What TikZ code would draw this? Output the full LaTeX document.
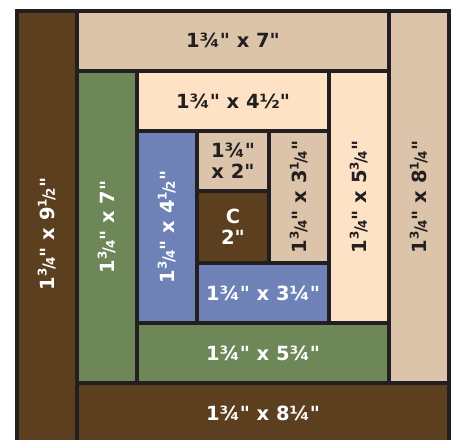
\documentclass[tikz,border=0pt]{standalone}
\usepackage{fontspec}
\setmainfont{DejaVu Sans}[Ligatures=TeXOff]
\definecolor{lc}{HTML}{231F20}
\definecolor{cbrown}{HTML}{5B3F1F}
\definecolor{ctan}{HTML}{DBC4A9}
\definecolor{cpeach}{HTML}{FDE2C5}
\definecolor{cgreen}{HTML}{6D8759}
\definecolor{cblue}{HTML}{6F82B7}
\newcommand\vfr[2]{\raisebox{0.42em}{\fontsize{12}{12}\selectfont #1}\kern-0.08em{\fontsize{16}{16}\selectfont /}\kern-0.08em{\fontsize{12}{12}\selectfont #2}}
\tikzset{
  blk/.style={draw=lc, line width=4pt, inner sep=0pt, outer sep=0pt},
  lab/.style={font=\bfseries\fontsize{19.5}{21}\selectfont, inner sep=0pt, align=center},
  dk/.style={lab, text=lc},
  wt/.style={lab, text=white},
}
\begin{document}
\begin{tikzpicture}[x=1pt,y=-1pt]
\useasboundingbox (0,0) rectangle (454,439);
\clip (0,0) rectangle (454,439);
\fill[white] (0,0) rectangle (454,439);
% blocks
\node[blk, fill=cbrown, minimum width=60pt, minimum height=432pt] (lb) at (47,227) {};
\node[blk, fill=ctan, minimum width=312pt, minimum height=60pt] (tt) at (233,41) {};
\node[blk, fill=ctan, minimum width=60pt, minimum height=372pt] (rt) at (419,197) {};
\node[blk, fill=cbrown, minimum width=372pt, minimum height=60pt] (bb) at (263,413) {};
\node[blk, fill=cgreen, minimum width=60pt, minimum height=312pt] (gl) at (107,227) {};
\node[blk, fill=cpeach, minimum width=192pt, minimum height=60pt] (pt) at (233,101) {};
\node[blk, fill=cpeach, minimum width=60pt, minimum height=252pt] (pr) at (359,197) {};
\node[blk, fill=cgreen, minimum width=252pt, minimum height=60pt] (gb) at (263,353) {};
\node[blk, fill=cblue, minimum width=60pt, minimum height=192pt] (bl) at (167,227) {};
\node[blk, fill=ctan, minimum width=72pt, minimum height=60pt] (ts) at (233,161) {};
\node[blk, fill=cbrown, minimum width=72pt, minimum height=72pt] (cc) at (233,227) {};
\node[blk, fill=ctan, minimum width=60pt, minimum height=132pt] (tv) at (299,197) {};
\node[blk, fill=cblue, minimum width=132pt, minimum height=60pt] (bh) at (263,293) {};
% labels
\node[wt, rotate=90] (lbl) at (47,234) {1\vfr34" x 9\vfr12"};
\node[dk] (ttl) at (233,40) {1¾" x 7"};
\node[dk, rotate=90] (rtl) at (419,197) {1\vfr34" x 8\vfr14"};
\node[wt] (bbl) at (263,413) {1¾" x 8¼"};
\node[wt, rotate=90] (gll) at (107,227) {1\vfr34" x 7"};
\node[dk] (ptl) at (233,101) {1¾" x 4½"};
\node[dk, rotate=90] (prl) at (359,197) {1\vfr34" x 5\vfr34"};
\node[wt] (gbl) at (263,353) {1¾" x 5¾"};
\node[wt, rotate=90] (bll) at (167,227) {1\vfr34" x 4\vfr12"};
\node[dk] (tsl) at (233,161) {1¾"\\x 2"};
\node[wt] (ccl) at (233,227) {C\\2"};
\node[dk, rotate=90] (tvl) at (299,197) {1\vfr34" x 3\vfr14"};
\node[wt] (bhl) at (263,293) {1¾" x 3¼"};
% outer frame
\draw[lc, line width=4pt] (17,443) -- (17,11) -- (449,11) -- (449,443);
\end{tikzpicture}
\end{document}
